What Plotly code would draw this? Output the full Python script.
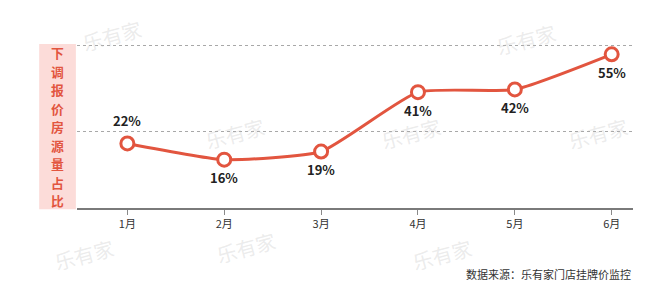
import plotly.graph_objects as go

months = ["1月", "2月", "3月", "4月", "5月", "6月"]
values = [22, 16, 19, 41, 42, 55]
labels = ["22%", "16%", "19%", "41%", "42%", "55%"]
label_above = [True, False, False, False, False, False]
grid_vals = [26.5, 58.2]
y_title = "下调报价房源量占比"
source = "数据来源：乐有家门店挂牌价监控"

RED = "#E2553F"
FONT = "Noto Sans CJK SC"

fig = go.Figure()
x_idx = list(range(len(months)))
fig.add_trace(go.Scatter(
    x=x_idx, y=values, mode="lines+markers",
    line=dict(color=RED, width=3, shape="spline", smoothing=0.5),
    marker=dict(size=13, color="white", line=dict(color=RED, width=3)),
    cliponaxis=False, hoverinfo="skip"))

for xi, v, lab, up in zip(x_idx, values, labels, label_above):
    fig.add_annotation(x=xi, y=v, text=lab, showarrow=False,
                       yshift=23 if up else -18,
                       font=dict(family=FONT, size=13, color="#222222", weight="bold"))

fig.update_layout(
    width=661, height=304,
    margin=dict(l=77, r=28, t=40, b=96),
    paper_bgcolor="white", plot_bgcolor="white",
    showlegend=False,
    font=dict(family=FONT),
    xaxis=dict(range=[-0.52, 5.22], tickvals=x_idx, ticktext=months,
               showgrid=False, zeroline=False, showline=True,
               linecolor="#7a7a7a", linewidth=2,
               ticks="outside", ticklen=5, tickcolor="#8a8a8a", tickwidth=1,
               tickfont=dict(size=11, color="#333333", family=FONT)),
    yaxis=dict(range=[-1.9, 60.3], tickvals=grid_vals, showticklabels=False,
               showgrid=True, gridcolor="#a8a8a8", griddash="dot", gridwidth=1,
               zeroline=False, showline=False),
)

# pink title box
fig.add_shape(type="rect", xref="paper", yref="paper",
              x0=-0.068, x1=-0.002, y0=-0.008, y1=0.976,
              fillcolor="#FCDCD9", line=dict(width=0), layer="below")
# vertical title: one character per annotation, evenly stacked
plot_top, plot_h = 40.0, 167.7
step = 18.5
center = 126.5
first_c = center - step * (len(y_title) - 1) / 2
for i, ch in enumerate(y_title):
    ypix = first_c + i * step
    fig.add_annotation(xref="paper", yref="paper", x=-0.035,
                       y=(plot_top + plot_h - ypix) / plot_h,
                       text=ch, showarrow=False, xanchor="center", yanchor="middle",
                       font=dict(family=FONT, size=12.8, color=RED, weight="bold"))

# source note
fig.add_annotation(xref="paper", yref="paper", x=1.0, y=-0.39,
                   text=source, showarrow=False, xanchor="right", yanchor="middle",
                   font=dict(family=FONT, size=11, color="#333333"))

# faint watermarks
wm = [(0.0, 1.17), (0.22, 0.3), (0.6, 0.3), (0.87, 1.15), (1.0, 0.3),
      (-0.05, -0.42), (0.24, -0.38), (0.72, -0.42)]
for wx, wy in wm:
    fig.add_annotation(xref="paper", yref="paper", x=wx, y=wy, text="乐有家",
                       showarrow=False, textangle=-15,
                       font=dict(family=FONT, size=20, color="rgba(190,190,190,0.3)"))

fig.write_html("out.html")
